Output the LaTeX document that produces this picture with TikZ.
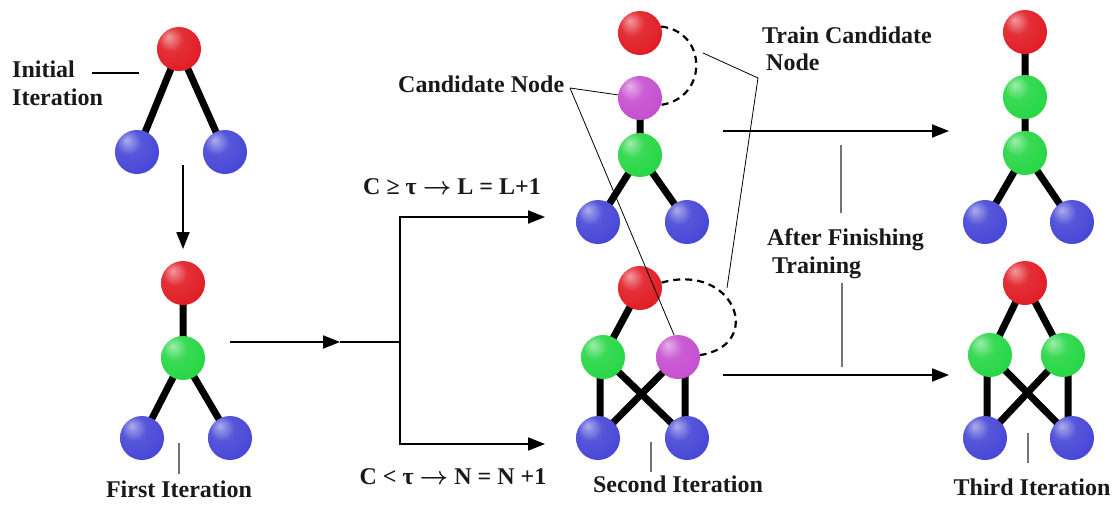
\documentclass[tikz,border=0pt]{standalone}
\usepackage{fontspec}
\setmainfont{Liberation Serif}
\usetikzlibrary{arrows.meta,backgrounds}
\definecolor{cred}{RGB}{225,30,38}
\definecolor{cgreen}{RGB}{40,215,70}
\definecolor{cblue}{RGB}{72,72,215}
\definecolor{cpurple}{RGB}{198,80,208}
\definecolor{txt}{RGB}{25,25,25}
\colorlet{ballc}{red}
\pgfdeclareradialshading[ballc]{sball}{\pgfpoint{-12bp}{14bp}}{%
color(0bp)=(ballc!45!white); color(14bp)=(ballc!92!white); color(32bp)=(ballc);
color(48bp)=(ballc!80!black); color(64bp)=(ballc!62!black)}
\tikzset{
  ball/.style={circle, inner sep=0pt, minimum size=44pt, shading=sball},
  redb/.style={ball, /utils/exec=\colorlet{ballc}{cred}},
  greenb/.style={ball, /utils/exec=\colorlet{ballc}{cgreen}},
  blueb/.style={ball, /utils/exec=\colorlet{ballc}{cblue}},
  purpb/.style={ball, /utils/exec=\colorlet{ballc}{cpurple}},
  edge/.style={line width=7pt, black},
  lbl/.style={inner sep=0pt, anchor=base west, text=txt, font=\fontsize{24}{26}\selectfont\bfseries},
  clbl/.style={lbl, anchor=base},
  arr/.style={line width=2pt, -{Triangle[length=17pt,width=13pt]}},
  plain/.style={line width=2pt},
  lead/.style={line width=0.8pt, black},
  tick/.style={line width=1.2pt, black!55},
  dashline/.style={line width=2.2pt, dash pattern=on 7pt off 5pt}
}
\newcommand{\rarr}{\mbox{\boldmath$\rightarrow$}}
\begin{document}
\begin{tikzpicture}[x=1pt,y=-1pt]
\useasboundingbox (0,0) rectangle (1114,504);
% Initial iteration
\node[redb] (iR) at (179,49) {};
\node[blueb] (iB1) at (137,152) {};
\node[blueb] (iB2) at (225,152) {};
% First iteration
\node[redb] (fR) at (183,283) {};
\node[greenb] (fG) at (183,358) {};
\node[blueb] (fB1) at (142,438) {};
\node[blueb] (fB2) at (230,438) {};
% Second iteration top
\node[redb] (sR) at (640,33) {};
\node[purpb] (sP) at (640,98) {};
\node[greenb] (sG) at (640,155) {};
\node[blueb] (sB1) at (598,222) {};
\node[blueb] (sB2) at (687,222) {};
% Second iteration bottom
\node[redb] (tR) at (640,288) {};
\node[greenb] (tG) at (603,357) {};
\node[purpb] (tP) at (678,357) {};
\node[blueb] (tB1) at (598,438) {};
\node[blueb] (tB2) at (687,438) {};
% Third iteration top
\node[redb] (uR) at (1025,32) {};
\node[greenb] (uG1) at (1025,97) {};
\node[greenb] (uG2) at (1025,153) {};
\node[blueb] (uB1) at (985,222) {};
\node[blueb] (uB2) at (1072,222) {};
% Third iteration bottom
\node[redb] (vR) at (1025,283) {};
\node[greenb] (vG1) at (990,355) {};
\node[greenb] (vG2) at (1063,355) {};
\node[blueb] (vB1) at (985,438) {};
\node[blueb] (vB2) at (1072,438) {};

\begin{pgfonlayer}{background}
\draw[edge] (iR.center) -- (iB1.center) (iR.center) -- (iB2.center);
\draw[edge] (fR.center) -- (fG.center) (fG.center) -- (fB1.center) (fG.center) -- (fB2.center);
\draw[edge] (sP.center) -- (sG.center) (sG.center) -- (sB1.center) (sG.center) -- (sB2.center);
\draw[edge] (tR.center) -- (tG.center)
  ([xshift=2pt]tB1.center |- tG.center) -- ([xshift=2pt]tB1.center)
  ([xshift=-2pt]tB2.center |- tP.center) -- ([xshift=-2pt]tB2.center)
  (tG.center) -- (tB2.center) (tP.center) -- (tB1.center);
\draw[edge] (uR.center) -- (uG1.center) (uG1.center) -- (uG2.center) (uG2.center) -- (uB1.center) (uG2.center) -- (uB2.center);
\draw[edge] (vR.center) -- (vG1.center) (vR.center) -- (vG2.center)
  ([xshift=2pt]vB1.center |- vG1.center) -- ([xshift=2pt]vB1.center)
  ([xshift=-4pt]vB2.center |- vG2.center) -- ([xshift=-4pt]vB2.center)
  (vG1.center) -- (vB2.center) (vG2.center) -- (vB1.center);
\end{pgfonlayer}

% dashed arcs
\draw[dashline] (sR.17) .. controls (708,32) and (708,98) .. (sP.-18);
\draw[dashline] (tR.14) .. controls (735,262) and (765,345) .. (tP.5);

% labels
\node[lbl] (lInit1) at (12,77) {Initial};
\node[lbl] (lInit2) at (12,105) {Iteration};
\node[clbl] (lFirst) at (179,497) {First Iteration};
\node[clbl] (lSecond) at (678,492) {Second Iteration};
\node[clbl] (lThird) at (1032,495) {Third Iteration};
\node[lbl] (lCand) at (398,92) {Candidate Node};
\node[lbl] (lTrain1) at (762,43) {Train Candidate};
\node[lbl] (lTrain2) at (766,70) {Node};
\node[lbl] (lAfter1) at (767,245) {After Finishing};
\node[lbl] (lAfter2) at (772,273) {Training};
\node[clbl] (lUp) at (452,194) {C ≥ τ \rarr{} L = L+1};
\node[clbl] (lDown) at (453,484) {C < τ \rarr{} N = N +1};

% leader lines and ticks
\coordinate (initEnd) at (92,73);
\coordinate (initTip) at (139,73);
\draw[line width=1.3pt] (initEnd) -- (initTip);
\coordinate (cand) at (570,88);
\draw[lead] (cand) -- (sP.172);
\draw[lead] (cand) -- (tP.100);
\coordinate (trA) at (703,53);
\coordinate (trB) at (758,78);
\coordinate (trC) at (727,288);
\draw[lead] (trA) -- (trB) -- (trC);
\coordinate (fT1) at (179,443); \coordinate (fT2) at (179,474);
\draw[tick] (fT1) -- (fT2);
\coordinate (sT1) at (651,442); \coordinate (sT2) at (651,472);
\draw[tick] (sT1) -- (sT2);
\coordinate (uT1) at (1028,433); \coordinate (uT2) at (1028,463);
\draw[tick] (uT1) -- (uT2);
\coordinate (aT1) at (841,145); \coordinate (aT2) at (841,213);
\coordinate (aT3) at (842,283); \coordinate (aT4) at (842,367);
\draw[tick] (aT1) -- (aT2) (aT3) -- (aT4);

% arrows
\coordinate (dnA) at (183,165); \coordinate (dnB) at (183,249);
\draw[arr] (dnA) -- (dnB);
\coordinate (fwA) at (230,342); \coordinate (fwB) at (340,342); \coordinate (split) at (400,342);
\draw[arr] (fwA) -- (fwB);
\draw[plain] (fwB) -- (split);
\coordinate (upEnd) at (545,217); \coordinate (dnEnd) at (545,444);
\draw[arr] (split) |- (upEnd);
\draw[arr] (split) |- (dnEnd);
\coordinate (r1A) at (723,131); \coordinate (r1B) at (949,131);
\coordinate (r2A) at (723,375); \coordinate (r2B) at (949,375);
\draw[arr] (r1A) -- (r1B);
\draw[arr] (r2A) -- (r2B);
\end{tikzpicture}
\end{document}
